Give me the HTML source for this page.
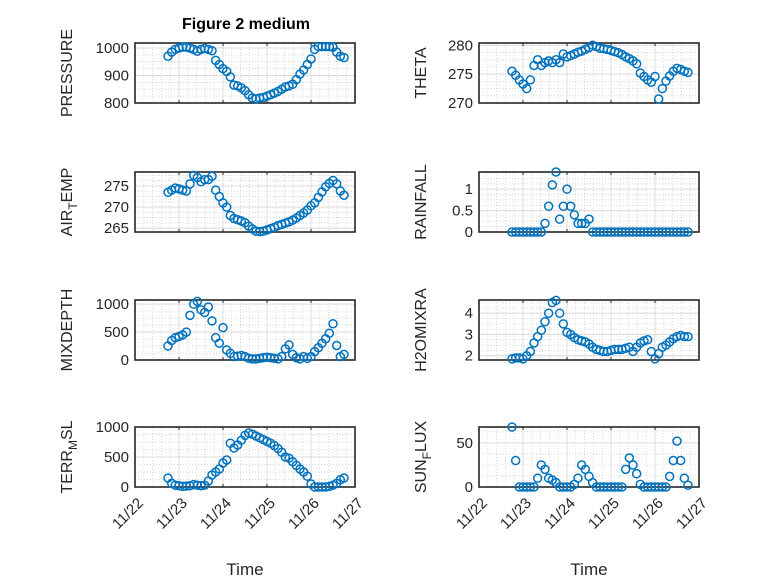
<!DOCTYPE html>
<html><head><meta charset="utf-8"><style>
body{margin:0;background:#fff}
svg{display:block;font-family:"Liberation Sans",sans-serif}
</style></head><body>
<svg id="fig" width="778" height="583" viewBox="0 0 778 583" xmlns="http://www.w3.org/2000/svg">
<rect width="778" height="583" fill="#fff"/>
<text x="246" y="29" text-anchor="middle" font-size="16" font-weight="bold" fill="#000">Figure 2 medium</text>
</svg>
<script>
const times = [];
for (let i = 0; i < 49; i++) times.push(0.75 + i / 12);
const xTickLabels = ["11/22","11/23","11/24","11/25","11/26","11/27"];
const pressure = [970,985,995,1000,1003,1003,1000,995,988,995,998,995,990,955,940,925,915,895,865,862,855,845,830,818,815,818,820,825,830,836,842,850,858,862,868,885,905,920,940,960,995,1005,1005,1005,1005,1003,985,970,965];
const theta = [275.5,274.8,274.0,273.3,272.5,274.0,276.5,277.5,276.5,277.0,277.3,277.0,277.5,277.0,278.5,278.0,278.2,278.5,278.8,279.0,279.3,279.6,280.0,279.8,279.5,279.4,279.3,279.1,278.9,278.7,278.4,278.0,277.7,277.3,276.8,275.2,274.6,274.0,273.6,274.6,270.7,272.5,273.8,274.7,275.5,276.0,275.8,275.5,275.3];
const airTemp = [273.5,274.0,274.5,274.3,274.0,273.8,275.5,277.5,277.0,276.0,276.5,276.5,277.3,274.0,272.5,271.0,270.0,268.0,267.3,267.0,266.7,266.3,265.5,264.8,264.3,264.2,264.3,264.6,264.9,265.2,265.6,265.9,266.2,266.5,266.9,267.4,268.0,268.6,269.3,270.3,271.0,272.3,273.6,274.8,275.6,276.3,275.5,273.8,272.8];
const rainfall = [0,0,0,0,0,0,0,0,0,0.2,0.6,1.1,1.4,0.3,0.6,1.0,0.6,0.4,0.2,0.2,0.2,0.3,0,0,0,0,0,0,0,0,0,0,0,0,0,0,0,0,0,0,0,0,0,0,0,0,0,0,0];
const mixDepth = [250,350,400,420,450,500,800,1000,1050,900,850,950,700,400,300,580,180,120,60,70,80,60,30,20,20,30,40,50,40,30,20,60,200,270,100,40,20,60,30,60,150,220,300,380,480,650,260,60,100];
const h2oMix = [1.85,1.9,1.9,1.85,2.0,2.2,2.6,2.9,3.2,3.6,4.0,4.5,4.6,4.0,3.5,3.1,3.0,2.85,2.75,2.7,2.65,2.55,2.4,2.3,2.25,2.2,2.2,2.25,2.3,2.3,2.3,2.35,2.4,2.2,2.4,2.6,2.7,2.75,2.2,1.85,2.1,2.4,2.5,2.65,2.8,2.9,2.95,2.9,2.9];
const terrMsl = [150,60,30,20,10,15,20,40,30,20,30,100,200,250,300,400,450,730,650,700,780,860,900,880,850,820,790,760,730,690,640,580,500,480,420,360,300,250,180,50,0,0,0,0,10,30,60,120,150];
const sunFlux = [68,30,0,0,0,0,0,10,25,20,10,8,5,0,0,0,0,3,10,25,20,12,5,0,0,0,0,0,0,0,0,20,33,25,15,3,0,0,0,0,0,0,0,12,30,52,30,10,2];
const pressureTicks = [800,900,1000];
const thetaTicks = [270,275,280];
const airTicks = [265,270,275];
const rainTicks = [0,0.5,1];
const mixTicks = [0,500,1000];
const h2oTicks = [2,3,4];
const terrTicks = [0,500,1000];
const sunTicks = [0,50];

const NS = "http://www.w3.org/2000/svg";
const svg = document.getElementById('fig');
function mk(tag, attrs, parent) {
  const e = document.createElementNS(NS, tag);
  for (const k in attrs) e.setAttribute(k, attrs[k]);
  (parent || svg).appendChild(e);
  return e;
}
const colX = [135, 479], W = 220;
const rowY = [43, 172, 300, 427], H = 60;
const panels = [
  {c:0,r:0,vals:pressure,ticks:pressureTicks,lim:[800,1018],label:["PRESSURE"],name:"pressure"},
  {c:1,r:0,vals:theta,ticks:thetaTicks,lim:[270,280.4],label:["THETA"],name:"theta"},
  {c:0,r:1,vals:airTemp,ticks:airTicks,lim:[264.1,278.3],label:["AIR","T","EMP"],name:"air-temp"},
  {c:1,r:1,vals:rainfall,ticks:rainTicks,lim:[0,1.4],label:["RAINFALL"],name:"rainfall"},
  {c:0,r:2,vals:mixDepth,ticks:mixTicks,lim:[0,1075],label:["MIXDEPTH"],name:"mixdepth"},
  {c:1,r:2,vals:h2oMix,ticks:h2oTicks,lim:[1.8,4.62],label:["H2OMIXRA"],name:"h2omixra"},
  {c:0,r:3,vals:terrMsl,ticks:terrTicks,lim:[0,1000],label:["TERR","M","SL"],name:"terr-msl"},
  {c:1,r:3,vals:sunFlux,ticks:sunTicks,lim:[0,68],label:["SUN","F","LUX"],name:"sun-flux"}
];
panels.forEach(p => {
  const x0 = colX[p.c], y0 = rowY[p.r];
  const xs = d => x0 + d * W / 5;
  const ys = v => y0 + H - (v - p.lim[0]) / (p.lim[1] - p.lim[0]) * H;
  const g = mk('g', {});
  
  
  for (let d = 0; d < 5; d++) for (let k = 1; k < 5; k++) {
    const x = xs(d + k / 5);
    mk('line', {x1:x,x2:x,y1:y0,y2:y0+H,stroke:'#c8c8c8','stroke-width':0.7,'stroke-dasharray':'1,2'}, g);
  }
  const step = p.ticks.length > 1 ? p.ticks[1] - p.ticks[0] : 50;
  for (let v = p.ticks[0] - step; v <= p.lim[1]; v += step / 4) {
    if (v < p.lim[0] || v > p.lim[1]) continue;
    const y = ys(v);
    mk('line', {x1:x0,x2:x0+W,y1:y,y2:y,stroke:'#c8c8c8','stroke-width':0.7,'stroke-dasharray':'1,2'}, g);
  }
  for (let d = 1; d < 5; d++) mk('line', {x1:xs(d),x2:xs(d),y1:y0,y2:y0+H,stroke:'#dcdcdc','stroke-width':1}, g);
  p.ticks.forEach(v => { const y = ys(v); mk('line', {x1:x0,x2:x0+W,y1:y,y2:y,stroke:'#dcdcdc','stroke-width':1}, g); });
  mk('rect', {x:x0,y:y0,width:W,height:H,fill:'none',stroke:'#262626','stroke-width':1.6}, g);
  for (let d = 1; d < 5; d++) {
    mk('line', {x1:xs(d),x2:xs(d),y1:y0,y2:y0+3,stroke:'#262626'}, g);
    mk('line', {x1:xs(d),x2:xs(d),y1:y0+H,y2:y0+H-3,stroke:'#262626'}, g);
  }
  p.ticks.forEach(v => {
    const t = mk('text', {x:x0-6,y:ys(v)+5,'text-anchor':'end','font-size':15,fill:'#262626'}, g);
    t.textContent = v;
    
    
  });
  const lx = p.c === 0 ? 72 : 426, ly = y0 + H / 2;
  const lt = mk('text', {x:lx,y:ly,'text-anchor':'middle','font-size':16,fill:'#262626',transform:`rotate(-90 ${lx} ${ly})`}, g);
  
  
  if (p.label.length === 1) lt.textContent = p.label[0];
  else {
    const a = mk('tspan', {}, lt); a.textContent = p.label[0];
    const b = mk('tspan', {dy:5,'font-size':12}, lt); b.textContent = p.label[1];
    const c = mk('tspan', {dy:-5}, lt); c.textContent = p.label[2];
  }
  p.vals.forEach((v, i) => {
    const c = mk('circle', {cx:xs(times[i]),cy:ys(v),r:4,fill:'none',stroke:'#0072BD','stroke-width':1.5}, g);
    
    
  });
  if (p.r === 3) {
    xTickLabels.forEach((lab, d) => {
      const tx = xs(d) + 9, ty = y0 + H + 17;
      const t = mk('text', {x:tx,y:ty,'text-anchor':'end','font-size':15,fill:'#262626',transform:`rotate(-45 ${tx} ${ty})`}, g);
      t.textContent = lab;
      
      
    });
    const xt = mk('text', {x:x0+W/2,y:575,'text-anchor':'middle','font-size':17,fill:'#262626'}, g);
    xt.textContent = 'Time';
    
    
  }
});
</script>
</body></html>
